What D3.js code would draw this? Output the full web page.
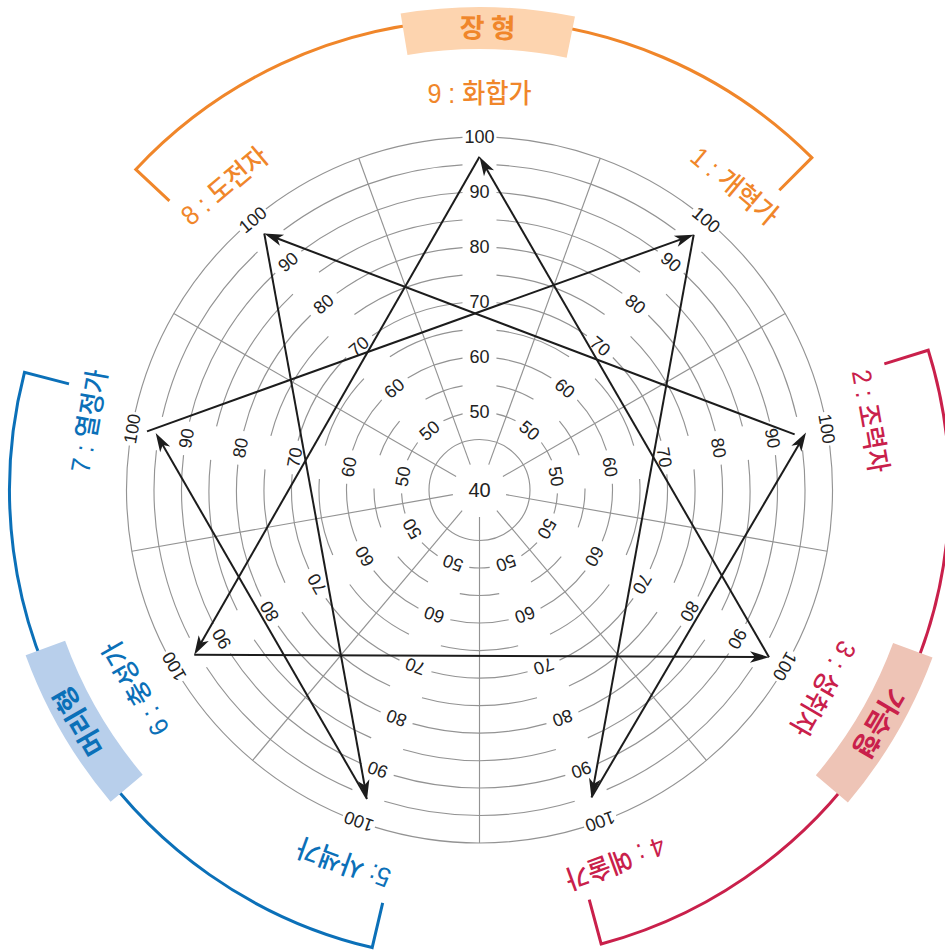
<!DOCTYPE html>
<html><head><meta charset="utf-8">
<script src="https://cdn.jsdelivr.net/npm/d3@7"></script>
<style>body{margin:0;background:#fff} svg{display:block}</style>
</head><body>
<svg id="c" width="945" height="952"></svg>
<script>
// ---------- data ----------
const axisTypes  = [9, 1, 2, 3, 4, 5, 6, 7, 8];               // clockwise from top
const axisLabels = ["9 : 화합가","1 : 개혁가","2 : 조력자","3 : 성취자","4 : 예술가","5: 사색가","6 : 충성가","7 : 열정가","8 : 도전자"];
const axisGroups = ["gut","gut","heart","heart","heart","head","head","head","gut"];
const tickValues = [50, 60, 70, 80, 90, 100];
const gridValues = [45, 50, 55, 60, 65, 70, 75, 80, 85, 90, 95, 100];
const centerValue = 40;
const groupKeys   = ["gut", "heart", "head"];
const groupNames  = ["장 형", "가슴형", "머리형"];
// enneagram arrows: from type, to type, value at start, value at arrow tip
const linkFrom      = [1, 4, 2, 8, 5, 7, 9, 6, 3];
const linkTo        = [4, 2, 8, 5, 7, 1, 6, 3, 9];
const linkFromValue = [96.4, 95.3, 94.0, 96.7, 95.6, 97.2, 96.4, 95.7, 96.6];
const linkToValue   = [95.3, 96.1, 96.7, 95.6, 95.6, 96.4, 95.7, 96.6, 96.4];

// ---------- layout / style ----------
const W = 945, H = 952, cx = 479.5, cy = 490;
const groupColor = {gut:"#f0862a", heart:"#c9204b", head:"#0b70b8"};
const groupFill  = {gut:"#fdd4af", heart:"#eec4b6", head:"#b8cfeb"};
const groupArcDeg = {gut:[-47, 45], heart:[72.7, 165], head:[193.2, 284.5]};
const groupBoxDeg = {gut:[-9.4, 11.4], heart:[110.3, 130.3], head:[229.8, 250]};
const groupLabelDeg = {gut:1, heart:120.3, head:240};

const svg = d3.select("#c");
const g = svg.append("g").attr("transform", `translate(${cx},${cy})`);

const r = d3.scaleLinear().domain([50, 100]).range([78, 353]);
const ang = d3.scaleLinear().domain([0, axisTypes.length]).range([0, 2 * Math.PI]);
const rad = d => d * Math.PI / 180;
const deg = a => a * 180 / Math.PI;
const pt = (a, rr) => [rr * Math.sin(a), -rr * Math.cos(a)];
const idxOf = t => axisTypes.indexOf(t);

// ---------- grid circles (with gaps at axes) ----------
const gridG = g.append("g").attr("fill", "none").attr("stroke", "#939393").attr("stroke-width", 1.15);
const arcGen = d3.arc();
gridValues.forEach(v => {
  const rr = r(v);
  if (v < tickValues[0]) {
    gridG.append("circle").attr("r", rr);
    return;
  }
  const gap = 34 / rr;
  axisTypes.forEach((t, i) => {
    const a0 = ang(i) + gap / 2, a1 = ang(i + 1) - gap / 2;
    const p0 = pt(a0, rr), p1 = pt(a1, rr);
    gridG.append("path").attr("d", `M${p0[0]},${p0[1]} A${rr},${rr} 0 0 1 ${p1[0]},${p1[1]}`);
  });
});
// radial lines between axes
axisTypes.forEach((t, i) => {
  const a = ang(i + 0.5);
  const p0 = pt(a, 27), p1 = pt(a, r(100));
  gridG.append("line").attr("x1", p0[0]).attr("y1", p0[1]).attr("x2", p1[0]).attr("y2", p1[1]);
});

// ---------- tick labels ----------
const tickG = g.append("g").attr("font-family", "'Liberation Sans', Arial, sans-serif")
  .attr("font-size", 18).attr("fill", "#222").attr("text-anchor", "middle");
axisTypes.forEach((t, i) => {
  tickValues.forEach(v => {
    tickG.append("text")
      .attr("transform", `rotate(${deg(ang(i))}) translate(0,${-r(v)})`)
      .attr("dy", "0.36em").text(v);
  });
});
tickG.append("text").attr("font-size", 20).attr("dy", "0.36em").text(centerValue);

// ---------- arrows ----------
const lineG = g.append("g");
linkFrom.forEach((f, k) => {
  const a0 = ang(idxOf(f)), a1 = ang(idxOf(linkTo[k]));
  const p0 = pt(a0, r(linkFromValue[k])), p1 = pt(a1, r(linkToValue[k]));
  const dx = p1[0] - p0[0], dy = p1[1] - p0[1];
  const len = Math.hypot(dx, dy), ux = dx / len, uy = dy / len;
  const e = [p1[0] - ux * 10, p1[1] - uy * 10];
  lineG.append("line").attr("x1", p0[0]).attr("y1", p0[1]).attr("x2", e[0]).attr("y2", e[1])
    .attr("stroke", "#1c1c1c").attr("stroke-width", 2);
  lineG.append("path")
    .attr("d", "M0,0 L-19,-5.8 L-14,0 L-19,5.8 Z")
    .attr("transform", `translate(${p1[0]},${p1[1]}) rotate(${deg(Math.atan2(dy, dx))})`)
    .attr("fill", "#1c1c1c");
});

// ---------- outer type labels ----------
const labG = g.append("g").attr("font-family", "'Liberation Sans', 'Noto Sans CJK KR', sans-serif")
  .attr("font-size", 27).attr("font-weight", 500).attr("text-anchor", "middle");
axisTypes.forEach((t, i) => {
  labG.append("text")
    .attr("transform", `rotate(${deg(ang(i))}) translate(0,-397) scale(0.93,1)`)
    .attr("dy", "0.36em")
    .attr("fill", groupColor[axisGroups[i]])
    .text(axisLabels[i]);
});

// ---------- group brackets ----------
const brG = g.append("g").attr("fill", "none").attr("stroke-width", 3);
const R_OUT = 470, R_IN = 424;
groupKeys.forEach((k, j) => {
  const [d0, d1] = groupArcDeg[k];
  const a0 = rad(d0), a1 = rad(d1);
  const i0 = pt(a0, R_IN), o0 = pt(a0, R_OUT), o1 = pt(a1, R_OUT), i1 = pt(a1, R_IN);
  brG.append("path")
    .attr("d", `M${i0[0]},${i0[1]} L${o0[0]},${o0[1]} A${R_OUT},${R_OUT} 0 0 1 ${o1[0]},${o1[1]} L${i1[0]},${i1[1]}`)
    .attr("stroke", groupColor[k]).attr("stroke-linejoin", "miter");
  const [b0, b1] = groupBoxDeg[k];
  g.append("path")
    .attr("d", arcGen({innerRadius: 441, outerRadius: 483, startAngle: rad(b0), endAngle: rad(b1)}))
    .attr("fill", groupFill[k]);
  g.append("text")
    .attr("transform", `rotate(${groupLabelDeg[k]}) translate(0,-462)`)
    .attr("dy", "0.36em").attr("text-anchor", "middle")
    .attr("font-family", "'Noto Sans CJK KR', sans-serif").attr("font-weight", "bold")
    .attr("font-size", 27).attr("fill", groupColor[k])
    .text(groupNames[j]);
});
</script>
</body></html>
